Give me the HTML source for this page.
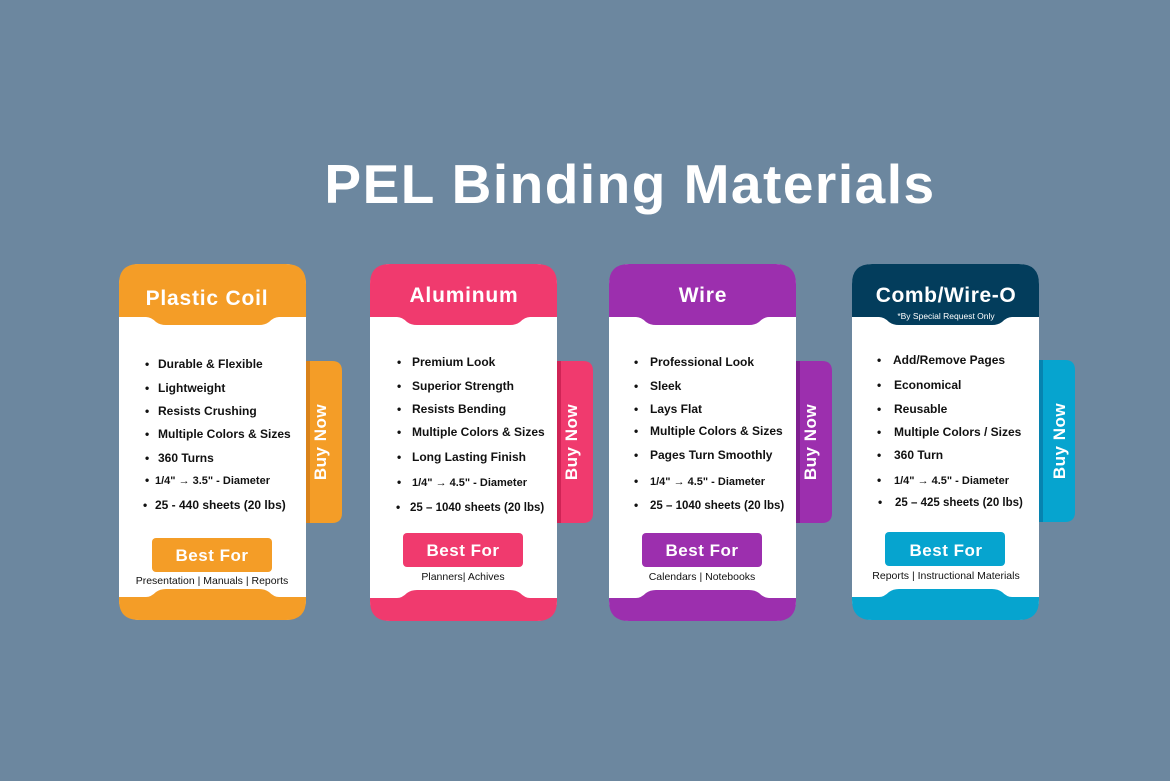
<!DOCTYPE html>
<html><head><meta charset="utf-8"><style>
html,body{margin:0;padding:0;background:#6c879f;}
svg{display:block;font-family:"Liberation Sans",Arial,sans-serif;font-weight:bold;}
</style></head><body>
<svg width="1170" height="781" viewBox="0 0 1170 781" xmlns="http://www.w3.org/2000/svg">
<rect width="1170" height="781" fill="#6c879f"/>
<text x="630" y="203" text-anchor="middle" font-size="55" letter-spacing="1.5" fill="#fff">PEL Binding Materials</text>

<!-- Card 1 -->
<g transform="translate(119,264)">
<path d="M177,97 H213 Q223,97 223,107 V249 Q223,259 213,259 H177 Z" fill="#f49d27"/>
<rect x="187" y="97" width="4" height="162" fill="#d9821a"/>
<rect width="187" height="356" rx="20" fill="#fff"/>
<path d="M0,20 Q0,0 20,0 H167 Q187,0 187,20 V53 H160 Q155,53 150,58 Q146,61 140,61 H47 Q41,61 37,58 Q32,53 27,53 H0 Z" fill="#f49d27"/>
<path d="M0,333 H27 Q32,333 37,328 Q41,325 47,325 H140 Q146,325 150,328 Q155,333 160,333 H187 V336 Q187,356 167,356 H20 Q0,356 0,336 Z" fill="#f49d27"/>
<text x="88" y="41" text-anchor="middle" font-size="21" letter-spacing="0.8" fill="#fff">Plastic Coil</text>
<g font-size="12" fill="#111">
<text x="26" y="104">•</text><text x="39" y="104">Durable &amp; Flexible</text>
<text x="26" y="128">•</text><text x="39" y="128">Lightweight</text>
<text x="26" y="151">•</text><text x="39" y="151">Resists Crushing</text>
<text x="26" y="174">•</text><text x="39" y="174">Multiple Colors &amp; Sizes</text>
<text x="26" y="198">•</text><text x="39" y="198">360 Turns</text>
<text x="26" y="220">•</text><text x="36" y="220" font-size="11">1/4" → 3.5" - Diameter</text>
<text x="24" y="245">•</text><text x="36" y="245">25 - 440 sheets (20 lbs)</text>
</g>
<rect x="33" y="274" width="120" height="34" rx="4" fill="#f49d27"/>
<text x="93" y="297" text-anchor="middle" font-size="17" letter-spacing="0.5" fill="#fff">Best For</text>
<text x="93" y="320" text-anchor="middle" font-size="10.5" font-weight="normal" fill="#111">Presentation | Manuals | Reports</text>
<text transform="translate(207,178) rotate(-90)" text-anchor="middle" font-size="17" letter-spacing="0.5" fill="#fff">Buy Now</text>
</g>

<!-- Card 2 -->
<g transform="translate(370,264)">
<path d="M177,97 H213 Q223,97 223,107 V249 Q223,259 213,259 H177 Z" fill="#f03a6e"/>
<rect x="187" y="97" width="4" height="162" fill="#cf2456"/>
<rect width="187" height="357" rx="20" fill="#fff"/>
<path d="M0,20 Q0,0 20,0 H167 Q187,0 187,20 V53 H160 Q155,53 150,58 Q146,61 140,61 H47 Q41,61 37,58 Q32,53 27,53 H0 Z" fill="#f03a6e"/>
<path d="M0,334 H27 Q32,334 37,329 Q41,326 47,326 H140 Q146,326 150,329 Q155,334 160,334 H187 V337 Q187,357 167,357 H20 Q0,357 0,337 Z" fill="#f03a6e"/>
<text x="94" y="38" text-anchor="middle" font-size="21" letter-spacing="0.8" fill="#fff">Aluminum</text>
<g font-size="12" fill="#111">
<text x="27" y="102">•</text><text x="42" y="102">Premium Look</text>
<text x="27" y="126">•</text><text x="42" y="126">Superior Strength</text>
<text x="27" y="149">•</text><text x="42" y="149">Resists Bending</text>
<text x="27" y="172">•</text><text x="42" y="172">Multiple Colors &amp; Sizes</text>
<text x="27" y="197">•</text><text x="42" y="197">Long Lasting Finish</text>
<text x="27" y="222">•</text><text x="42" y="222" font-size="11">1/4" → 4.5" - Diameter</text>
<text x="26" y="247">•</text><text x="40" y="247" font-size="11.5">25 – 1040 sheets (20 lbs)</text>
</g>
<rect x="33" y="269" width="120" height="34" rx="4" fill="#f03a6e"/>
<text x="93" y="292" text-anchor="middle" font-size="17" letter-spacing="0.5" fill="#fff">Best For</text>
<text x="93" y="316" text-anchor="middle" font-size="10.5" font-weight="normal" fill="#111">Planners| Achives</text>
<text transform="translate(207,178) rotate(-90)" text-anchor="middle" font-size="17" letter-spacing="0.5" fill="#fff">Buy Now</text>
</g>

<!-- Card 3 -->
<g transform="translate(609,264)">
<path d="M177,97 H213 Q223,97 223,107 V249 Q223,259 213,259 H177 Z" fill="#9c2fae"/>
<rect x="187" y="97" width="4" height="162" fill="#7f2090"/>
<rect width="187" height="357" rx="20" fill="#fff"/>
<path d="M0,20 Q0,0 20,0 H167 Q187,0 187,20 V53 H160 Q155,53 150,58 Q146,61 140,61 H47 Q41,61 37,58 Q32,53 27,53 H0 Z" fill="#9c2fae"/>
<path d="M0,334 H27 Q32,334 37,329 Q41,326 47,326 H140 Q146,326 150,329 Q155,334 160,334 H187 V337 Q187,357 167,357 H20 Q0,357 0,337 Z" fill="#9c2fae"/>
<text x="94" y="38" text-anchor="middle" font-size="21" letter-spacing="0.8" fill="#fff">Wire</text>
<g font-size="12" fill="#111">
<text x="25" y="102">•</text><text x="41" y="102">Professional Look</text>
<text x="25" y="126">•</text><text x="41" y="126">Sleek</text>
<text x="25" y="149">•</text><text x="41" y="149">Lays Flat</text>
<text x="25" y="171">•</text><text x="41" y="171">Multiple Colors &amp; Sizes</text>
<text x="25" y="195">•</text><text x="41" y="195">Pages Turn Smoothly</text>
<text x="25" y="221">•</text><text x="41" y="221" font-size="11">1/4" → 4.5" - Diameter</text>
<text x="25" y="245">•</text><text x="41" y="245" font-size="11.5">25 – 1040 sheets (20 lbs)</text>
</g>
<rect x="33" y="269" width="120" height="34" rx="4" fill="#9c2fae"/>
<text x="93" y="292" text-anchor="middle" font-size="17" letter-spacing="0.5" fill="#fff">Best For</text>
<text x="93" y="316" text-anchor="middle" font-size="10.5" font-weight="normal" fill="#111">Calendars | Notebooks</text>
<text transform="translate(207,178) rotate(-90)" text-anchor="middle" font-size="17" letter-spacing="0.5" fill="#fff">Buy Now</text>
</g>

<!-- Card 4 -->
<g transform="translate(852,264)">
<path d="M177,96 H213 Q223,96 223,106 V248 Q223,258 213,258 H177 Z" fill="#06a4cf"/>
<rect x="187" y="96" width="4" height="162" fill="#0683b0"/>
<rect width="187" height="356" rx="20" fill="#fff"/>
<path d="M0,20 Q0,0 20,0 H167 Q187,0 187,20 V53 H160 Q155,53 150,58 Q146,61 140,61 H47 Q41,61 37,58 Q32,53 27,53 H0 Z" fill="#033d5c"/>
<path d="M0,333 H27 Q32,333 37,328 Q41,325 47,325 H140 Q146,325 150,328 Q155,333 160,333 H187 V336 Q187,356 167,356 H20 Q0,356 0,336 Z" fill="#06a4cf"/>
<text x="94" y="38" text-anchor="middle" font-size="21" letter-spacing="0.6" fill="#fff">Comb/Wire-O</text>
<text x="94" y="55" text-anchor="middle" font-size="8.5" font-weight="normal" fill="#fff">*By Special Request Only</text>
<g font-size="12" fill="#111">
<text x="25" y="100">•</text><text x="41" y="100">Add/Remove Pages</text>
<text x="25" y="125">•</text><text x="42" y="125">Economical</text>
<text x="25" y="149">•</text><text x="42" y="149">Reusable</text>
<text x="25" y="172">•</text><text x="42" y="172">Multiple Colors / Sizes</text>
<text x="25" y="195">•</text><text x="42" y="195">360 Turn</text>
<text x="25" y="220">•</text><text x="42" y="220" font-size="11">1/4" → 4.5" - Diameter</text>
<text x="26" y="242">•</text><text x="43" y="242" font-size="11.5">25 – 425 sheets (20 lbs)</text>
</g>
<rect x="33" y="268" width="120" height="34" rx="4" fill="#06a4cf"/>
<text x="94" y="292" text-anchor="middle" font-size="17" letter-spacing="0.5" fill="#fff">Best For</text>
<text x="94" y="315" text-anchor="middle" font-size="10.5" font-weight="normal" fill="#111">Reports | Instructional Materials</text>
<text transform="translate(213,177) rotate(-90)" text-anchor="middle" font-size="17" letter-spacing="0.5" fill="#fff">Buy Now</text>
</g>
</svg>
</body></html>
